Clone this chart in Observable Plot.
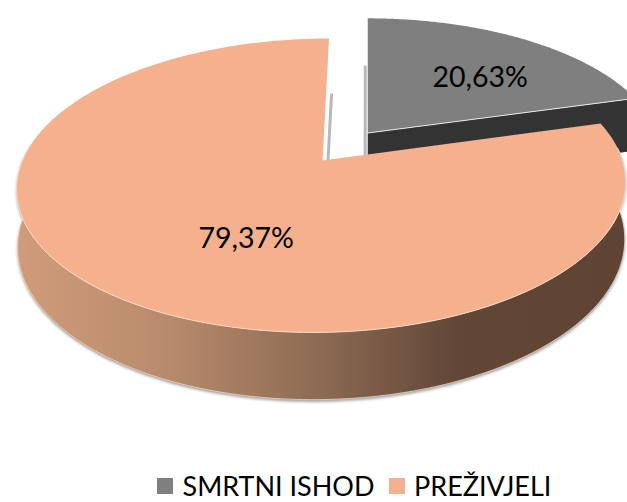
<!DOCTYPE html>
<html><head><meta charset="utf-8">
<script src="https://cdn.jsdelivr.net/npm/d3@7"></script>
<script src="https://cdn.jsdelivr.net/npm/@observablehq/plot@0.6"></script>
<style>html,body{margin:0;padding:0;background:#fff;overflow:hidden}svg{display:block}
#chart [class$="-swatch"]{margin-right:14px !important;overflow:visible !important;line-height:33px !important;height:33px}
#chart [class$="-swatch"]>svg{margin-right:9.5px !important}
</style>
</head><body><div id="chart"></div>
<script>
const categories = ["SMRTNI ISHOD", "PREŽIVJELI"];
const shares = [20.63, 79.37];
const labels = ["20,63%", "79,37%"];
const faceColors = ["#7f7f7f", "#f5b18d"];
const wallColor = "#333333";

// Projection of the pie plane (unit disc, Y pointing away) onto the picture.
const tilt = {a: 300, b: 142.7, shear: 7.65, persp: 0.17, depth: 56.5, depthPersp: 0.003};
const project = (X, Y, Z = 0) => {
  const w = 1 + tilt.persp * Y + tilt.depthPersp * Z;
  return {x: (tilt.a * X + tilt.shear * Y) / w, y: (tilt.b * Y - tilt.depth * Z) / w};
};
const explode = 0.25;
const split = 2 * Math.PI * shares[0] / 100;            // clockwise from 12 o'clock
const mid = split / 2;
const off = {X: explode * Math.sin(mid), Y: explode * Math.cos(mid)};
const rim = (t, o = {X: 0, Y: 0}, Z = 0) => project(o.X + Math.sin(t), o.Y + Math.cos(t), Z);
const steps = (a, b, n = 180) => d3.range(n + 1).map(i => a + (b - a) * i / n);
const rad = d => d * Math.PI / 180;

const greyFace = [project(off.X, off.Y), ...steps(0, split).map(t => rim(t, off))]
  .map(p => ({...p, name: categories[0]}));
const mainFace = [project(0, 0), ...steps(split, 2 * Math.PI, 360).map(t => rim(t))]
  .map(p => ({...p, name: categories[1]}));
const greyWall = [project(off.X, off.Y), rim(split, off), rim(split, off, 1), project(off.X, off.Y, 1)];
const front = steps(rad(85), rad(276));
const frontTop = front.map(t => rim(t));
const frontBottom = front.map(t => rim(t, undefined, 1));
const mainWall = [...frontTop, ...[...frontBottom].reverse()];
const greyEdge = [project(off.X, off.Y), rim(split, off)];
const greyShade = [project(off.X, off.Y + 0.54), project(off.X, off.Y, 0.45)];
const mainShade = [project(0, 0.5), project(0, 0)];
const labelRows = [
  {...project(0.567, 0.645), text: labels[0]},
  {...project(-0.22, -0.5), text: labels[1]}
];
const xy = {x: "x", y: "y"};

const plot = Plot.plot({
  width: 627, height: 466, margin: 0,
  x: {domain: [-322, 305], range: [0, 627], axis: null},
  y: {domain: [160, -306], range: [0, 466], axis: null},
  color: {domain: categories, range: faceColors},
  marks: [
    Plot.line(greyWall, {...xy, fill: wallColor, stroke: "none"}),
    Plot.line(greyFace, {...xy, fill: "name", stroke: "none", z: "name"}),
    Plot.line(greyEdge, {...xy, stroke: "#e8e8e8", strokeWidth: 1}),
    Plot.line(greyShade, {...xy, stroke: "#b8b8b8", strokeWidth: 3, dx: -2.5}),
    Plot.line(mainShade, {...xy, stroke: "#b8b8b8", strokeWidth: 3, dx: 5.5}),
    Plot.line(mainWall, {...xy, fill: "url(#wallGradient)", stroke: "none",
      imageFilter: "drop-shadow(0px 2px 1.5px rgba(70,70,70,.55))"}),
    Plot.line(frontBottom, {...xy, stroke: "#eed5c2", strokeWidth: 0.8}),
    Plot.line(mainFace, {...xy, fill: "name", stroke: "none", z: "name"}),
    Plot.line(frontTop, {...xy, stroke: "#f8dcc8", strokeWidth: 1}),
    Plot.text(labelRows, {...xy, text: "text", fontSize: 28.5, fontFamily: "Lato", fill: "#000"})
  ]
});

const svg = d3.select(plot);
const grad = svg.append("defs").append("linearGradient").attr("id", "wallGradient");
[[0, "#d09c7b"], [0.25, "#b88a6c"], [0.5, "#8c6a53"], [0.72, "#624737"], [1, "#5f4434"]]
  .forEach(([o, c]) => grad.append("stop").attr("offset", o).attr("stop-color", c));

const legend = plot.legend("color", {swatchSize: 16,
  style: {font: "27px/33px Lato", color: "#000", margin: 0, padding: "3px 0 0 157px", boxSizing: "border-box", height: "36px", whiteSpace: "nowrap", alignItems: "flex-start", minHeight: 0, overflow: "visible"}});
const host = document.getElementById("chart");
host.append(plot);
if (legend) host.append(legend);
</script></body></html>
